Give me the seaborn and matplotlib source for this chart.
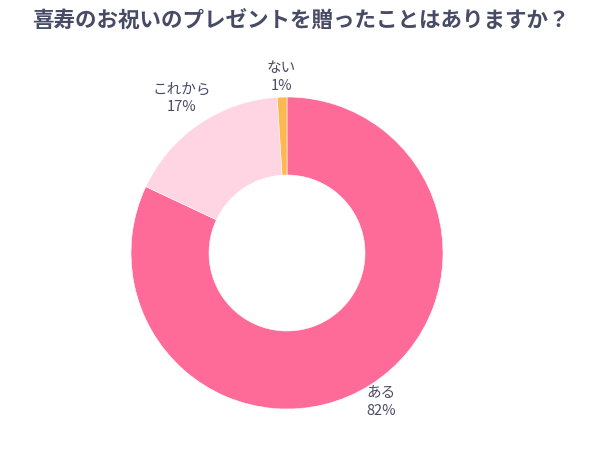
import numpy as np
import seaborn as sns
import matplotlib.pyplot as plt

## data
title = "喜寿のお祝いのプレゼントを贈ったことはありますか？"
categories = ["ある", "これから", "ない"]
values = [82, 17, 1]
colors = ["#FF6B99", "#FFD5E3", "#FFB84D"]

## style
sns.set_theme(style="white")
plt.rcParams['font.family'] = ['Noto Sans CJK JP', 'DejaVu Sans']
text_color = "#474B66"

fig = plt.figure(figsize=(6.02, 4.51), dpi=100)
ax = fig.add_axes([0.2176, 0.0931, 0.5183, 0.6918])

labels = [f"{c}\n{v}%" for c, v in zip(categories, values)]
wedges, texts = ax.pie(values, labels=labels, colors=sns.color_palette(colors),
                       startangle=90, counterclock=False, radius=1,
                       labeldistance=1.13,
                       wedgeprops=dict(width=0.5, edgecolor="white", linewidth=0.4),
                       textprops=dict(color=text_color, fontsize=10.5,
                                      ha="center", va="center", linespacing=1.35))
# これから label sits a bit further out
texts[1].set_position(np.array(texts[1].get_position()) * 1.06)

ax.set_xlim(-1, 1)
ax.set_ylim(-1, 1)
ax.set_aspect("equal")
ax.axis("off")

fig.text(0.5, 0.955, title, ha="center", va="center", fontsize=15.5,
         fontweight="bold", color=text_color)

## save figure
fig.savefig("out.png", dpi=100)
